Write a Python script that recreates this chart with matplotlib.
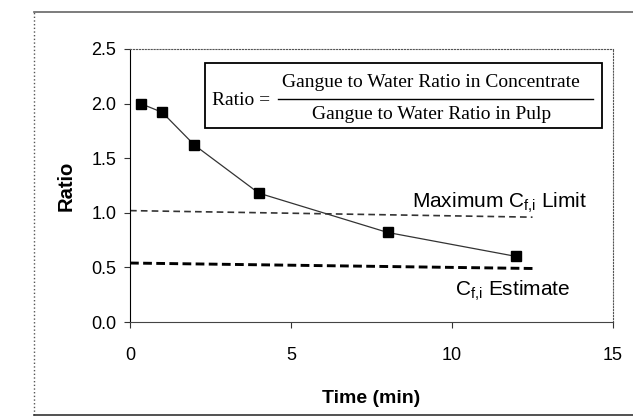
import matplotlib.pyplot as plt
from matplotlib.patches import Rectangle
from matplotlib.lines import Line2D

# dati
time_min = [0.33, 1, 2, 4, 8, 12]
ratio = [2.00, 1.92, 1.62, 1.18, 0.82, 0.60]

limit_x = [0, 12.5]
max_limit = [1.02, 0.96]
estimate = [0.54, 0.49]

x_ticks = [0, 5, 10, 15]
y_ticks = [0.0, 0.5, 1.0, 1.5, 2.0, 2.5]

plt.rcParams['font.family'] = ['Liberation Sans', 'DejaVu Sans']

fig = plt.figure(figsize=(6.33, 4.19), dpi=100)
ax = fig.add_axes([0.2054, 0.2315, 0.763, 0.6516])

# cornice esterna (scansione)
fig.add_artist(Line2D([0.054, 1.0], [0.972, 0.972], transform=fig.transFigure, color='#666666', lw=1.2))
fig.add_artist(Line2D([0.054, 0.054], [0.010, 0.972], transform=fig.transFigure, color='#555555', lw=1, ls=':'))
fig.add_artist(Line2D([0.054, 1.0], [0.010, 0.010], transform=fig.transFigure, color='#333333', lw=1.2))

ax.plot(time_min, ratio, color='#333333', lw=0.9, marker='s', markersize=6.5,
        markerfacecolor='black', markeredgecolor='black', zorder=3)
ax.plot(limit_x, max_limit, color='#333333', lw=1.2, ls=(0, (4, 2.5)))
ax.plot(limit_x, estimate, color='black', lw=2.1, ls=(0, (3, 1.5)))

ax.text(8.75, 1.09, 'Maximum C$_{\\mathregular{f{,}i}}$ Limit', fontsize=15, va='center', ha='left')
ax.text(10.1, 0.29, 'C$_{\\mathregular{f{,}i}}$ Estimate', fontsize=15, va='center', ha='left')

# riquadro con la formula
ax.add_patch(Rectangle((2.33, 1.78), 12.33, 0.59, fill=False, edgecolor='black', lw=1.3, zorder=4))
ax.text(2.55, 2.03, 'Ratio =', family='Liberation Serif', fontsize=14, va='center', ha='left')
ax.text(9.35, 2.19, 'Gangue to Water Ratio in Concentrate', family='Liberation Serif', fontsize=14, va='center', ha='center')
ax.text(9.35, 1.90, 'Gangue to Water Ratio in Pulp', family='Liberation Serif', fontsize=14, va='center', ha='center')
ax.plot([4.6, 14.38], [2.045, 2.045], color='black', lw=1)

ax.set_xlim(0, 15)
ax.set_ylim(0, 2.5)
ax.set_xticks(x_ticks)
ax.set_yticks(y_ticks)
ax.set_yticklabels(['%.1f' % v for v in y_ticks])
ax.tick_params(axis='both', labelsize=13, direction='out', length=4, color='#333333')
ax.tick_params(axis='x', pad=14)
ax.tick_params(axis='y', pad=6)

ax.spines['top'].set_linestyle(':')
ax.spines['top'].set_color('#555555')
ax.spines['right'].set_linestyle(':')
ax.spines['right'].set_color('#555555')
ax.spines['bottom'].set_color('#444444')
ax.spines['left'].set_color('black')

ax.set_xlabel('Time (min)', fontsize=14, fontweight='bold', labelpad=19)
ax.set_ylabel('Ratio', fontsize=14.5, fontweight='bold', labelpad=11)

plt.savefig('out.png', dpi=100)
